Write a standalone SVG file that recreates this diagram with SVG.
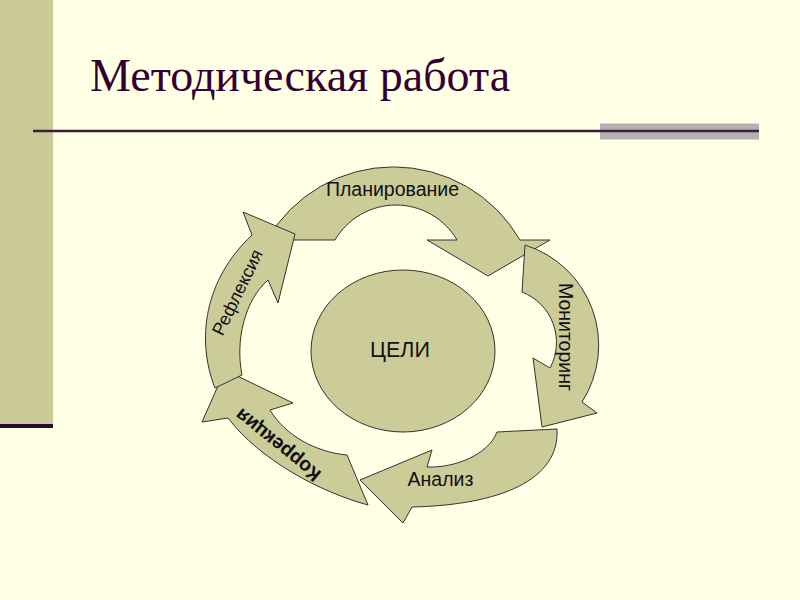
<svg xmlns="http://www.w3.org/2000/svg" width="800" height="600" viewBox="0 0 800 600">
<style>
.arrow{fill:#CCCC99;stroke:#333333;stroke-width:1;stroke-linejoin:miter}
.lbl{font-family:"Liberation Sans",Arial,sans-serif;font-size:19.5px;fill:#111111}
</style>
<rect x="0" y="0" width="800" height="600" fill="#FFFFE6"/>
<rect x="0" y="0" width="53" height="424" fill="#CACA98"/>
<rect x="0" y="424" width="53" height="4" fill="#2E0A2E"/>
<rect x="600" y="123.5" width="159" height="16" fill="#B2B2B2"/>
<line x1="33" y1="131" x2="759" y2="131" stroke="#3D1F3D" stroke-width="2.5"/>
<text x="90" y="91" font-family="'Liberation Serif','Times New Roman',serif" font-size="46" fill="#330033">Методическая работа</text>

<g id="cycle">
<g id="planirovanie">
<path class="arrow" d="M267,240 A146,146 0 0 1 520,240 L550,240 L488,276 L427,240 L457,240 A70.7,70.7 0 0 0 335,240 Z"/>
<text class="lbl" x="392.5" y="196" text-anchor="middle">Планирование</text>
</g>
<g id="monitoring">
<path class="arrow" d="M525,245 A105,105 0 0 1 582,402 L597,413 L542,427 L533,358 L550,368 A54,54 0 0 0 522,292 Z"/>
<text class="lbl" transform="translate(559,337) rotate(90)" text-anchor="middle">Мониторинг</text>
</g>
<g id="analiz">
<path class="arrow" d="M497,432 L557,429 C560,480 500,505 412,507 L403,523 L360,480 L432,450 L427,467 C455,468 488,455 497,432 Z"/>
<text class="lbl" x="440.5" y="486" text-anchor="middle">Анализ</text>
</g>
<g id="korrekciya">
<path class="arrow" d="M347,455 L368,505 C320,492 260,460 228,418 L202,422 L225,370 L293,403 L270,410 C285,435 315,452 347,455 Z"/>
<text class="lbl" transform="translate(282,440) rotate(219)" text-anchor="middle" font-weight="bold">Коррекция</text>
</g>
<g id="refleksiya">
<path class="arrow" d="M242,375 L215,388 C196,340 204,280 252,235 L243,212 L295,234 L278,303 L268,280 C245,300 235,340 242,375 Z"/>
<text class="lbl" transform="translate(243,295) rotate(-64)" text-anchor="middle" style="font-size:18px">Рефлексия</text>
</g>
</g>

<g id="celi">
<ellipse cx="403" cy="351" rx="92" ry="81" fill="#CCCC99" stroke="#333333" stroke-width="1"/>
<text x="400" y="357" text-anchor="middle" font-family="'Liberation Sans',Arial,sans-serif" font-size="21.5" fill="#111111">ЦЕЛИ</text>
</g>
</svg>
